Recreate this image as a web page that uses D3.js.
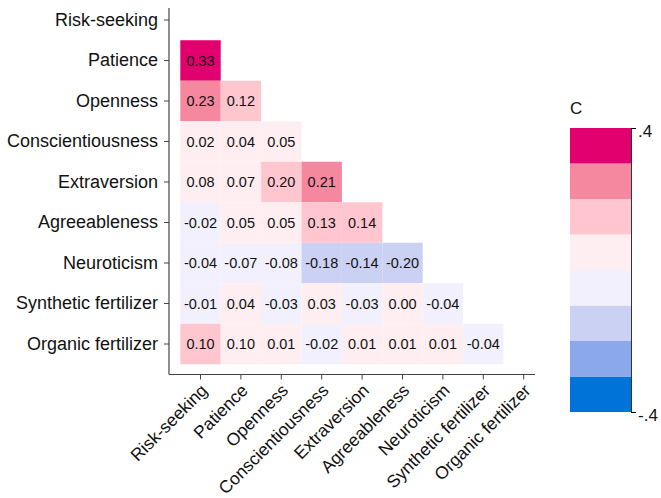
<!DOCTYPE html>
<html>
<head>
<meta charset="utf-8">
<script src="https://cdn.jsdelivr.net/npm/d3@7"></script>
<style>
  body { margin: 0; background: #fff; }
  svg { font-family: "Liberation Sans", Arial, sans-serif; }
</style>
</head>
<body>
<div id="chart"></div>
<script>
var svgWidth = 661;
var svgHeight = 498;

// variables, in the order of both axes
var vars = ["Risk-seeking", "Patience", "Openness", "Conscientiousness", "Extraversion",
            "Agreeableness", "Neuroticism", "Synthetic fertilizer", "Organic fertilizer"];

// lower triangle, one array per row (row i has i values)
var rowPatience      = [0.33];
var rowOpenness      = [0.23, 0.12];
var rowConscient     = [0.02, 0.04, 0.05];
var rowExtraversion  = [0.08, 0.07, 0.198, 0.21];
var rowAgreeable     = [-0.02, 0.05, 0.05, 0.13, 0.14];
var rowNeuroticism   = [-0.04, -0.07, -0.08, -0.18, -0.14, -0.198];
var rowSynthetic     = [-0.01, 0.04, -0.03, 0.03, -0.03, 0.002, -0.04];
var rowOrganic       = [0.104, 0.096, 0.01, -0.02, 0.01, 0.01, 0.01, -0.04];

var rows = [[], rowPatience, rowOpenness, rowConscient, rowExtraversion,
            rowAgreeable, rowNeuroticism, rowSynthetic, rowOrganic];

// colour bands from -.4 to .4
var bandBreaks = [-0.3, -0.2, -0.1, 0, 0.1, 0.2, 0.3];
var bandColors = ["#0073d9", "#8ca8ed", "#cbd1f2", "#f1f0fc",
                  "#ffeef1", "#ffc6d0", "#f5879f", "#e2006e"];
var legendTicks = [-0.4, 0.4];

// flatten to cells
var cells = [];
rows.forEach(function(r, i) {
    r.forEach(function(v, j) {
        cells.push({ row: vars[i], col: vars[j], value: v });
    });
});

var svg = d3.select("#chart")
            .append("svg")
            .attr("width", svgWidth)
            .attr("height", svgHeight);

var xScale = d3.scaleBand().domain(vars).range([180.3, 543.9]);
var yScale = d3.scaleBand().domain(vars).range([-0.25, 364.25]);
var color = d3.scaleThreshold().domain(bandBreaks).range(bandColors);

var axisX = 169, axisY = 374.5;

// cells
var g = svg.append("g");
g.selectAll("rect").data(cells).enter()
  .append("rect")
  .attr("x", d => xScale(d.col))
  .attr("y", d => yScale(d.row))
  .attr("width", xScale.bandwidth())
  .attr("height", yScale.bandwidth())
  .attr("fill", d => color(d.value));

g.selectAll("text.val").data(cells).enter()
  .append("text")
  .attr("class", "val")
  .attr("x", d => xScale(d.col) + xScale.bandwidth() / 2)
  .attr("y", d => yScale(d.row) + yScale.bandwidth() / 2)
  .attr("dy", "0.36em")
  .style("font-size", "14.5px")
  .style("fill", "#111")
  .style("text-anchor", "middle")
  .text(d => d3.format(".2f")(d.value).replace("−", "-"));

// axes
var yAxis = d3.axisLeft(yScale).tickSize(5).tickSizeOuter(0);
var yAxisGroup = svg.append("g")
    .attr("transform", `translate(${axisX}, 0)`)
    .call(yAxis);
yAxisGroup.select(".domain").remove();
yAxisGroup.selectAll("text").style("font-size", "18px").style("fill", "#111").attr("x", -11);
yAxisGroup.selectAll("line").attr("stroke", "#444");

var xAxis = d3.axisBottom(xScale).tickSize(5).tickSizeOuter(0);
var xAxisGroup = svg.append("g")
    .attr("transform", `translate(0, ${axisY})`)
    .call(xAxis);
xAxisGroup.select(".domain").remove();
xAxisGroup.selectAll("line").attr("stroke", "#444");
xAxisGroup.selectAll("text")
    .style("font-size", "17.5px")
    .style("fill", "#111")
    .style("text-anchor", "end")
    .attr("x", 0).attr("y", 0).attr("dy", 0)
    .attr("transform", "translate(8, 17) rotate(-45)");

svg.append("line")
   .attr("x1", axisX).attr("x2", axisX)
   .attr("y1", 8).attr("y2", axisY)
   .attr("stroke", "#444").attr("stroke-width", 1.2);
svg.append("line")
   .attr("x1", axisX).attr("x2", 535)
   .attr("y1", axisY).attr("y2", axisY)
   .attr("stroke", "#444").attr("stroke-width", 1.2);

// legend
var legScale = d3.scaleLinear().domain([-0.4, 0.4]).range([412, 128]);
var legend = svg.append("g");
var bandEdges = [-0.4].concat(bandBreaks).concat([0.4]);
legend.selectAll("rect").data(bandColors).enter()
  .append("rect")
  .attr("x", 570)
  .attr("width", 61)
  .attr("y", (d, i) => legScale(bandEdges[i + 1]))
  .attr("height", (d, i) => legScale(bandEdges[i]) - legScale(bandEdges[i + 1]))
  .attr("fill", d => d);

var legAxis = d3.axisRight(legScale)
    .tickValues(legendTicks)
    .tickSize(5)
    .tickSizeOuter(0)
    .tickFormat(d => d3.format(".1f")(d).replace("0.", ".").replace("−", "-"));
var legAxisGroup = svg.append("g")
    .attr("transform", "translate(631, 0)")
    .call(legAxis);
legAxisGroup.selectAll("text").style("font-size", "17px").style("fill", "#111").attr("x", 7).attr("dy", "0.5em");
legAxisGroup.select(".domain").attr("stroke", "#333");

svg.append("text")
   .attr("x", 570)
   .attr("y", 114)
   .style("font-size", "17px")
   .style("fill", "#111")
   .text("C");
</script>
</body>
</html>
